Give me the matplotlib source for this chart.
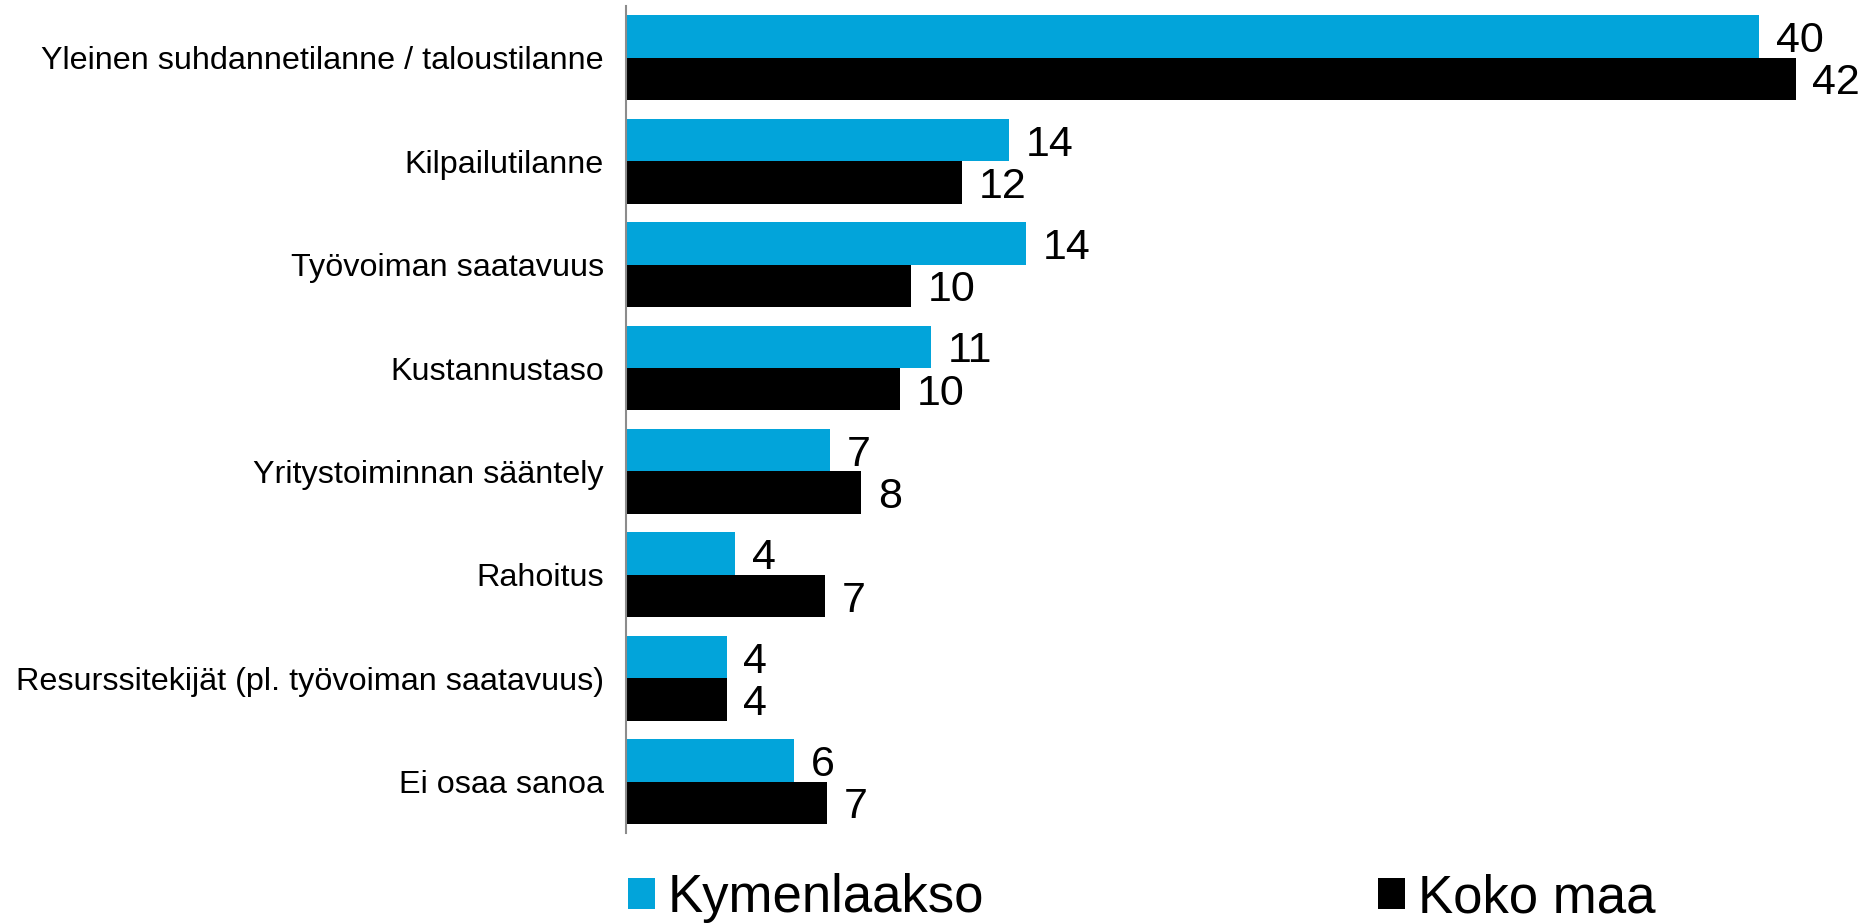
import matplotlib.pyplot as plt
import numpy as np

plt.rcParams['font.family'] = ['Liberation Sans', 'DejaVu Sans']

categories = ["Yleinen suhdannetilanne / taloustilanne", "Kilpailutilanne",
              "Työvoiman saatavuus", "Kustannustaso", "Yritystoiminnan sääntely",
              "Rahoitus", "Resurssitekijät (pl. työvoiman saatavuus)", "Ei osaa sanoa"]
kymenlaakso = [40.5, 13.7, 14.3, 10.9, 7.3, 3.9, 3.6, 6.0]
koko_maa = [41.8, 12.0, 10.2, 9.8, 8.4, 7.1, 3.6, 7.2]
kymen_labels = [40, 14, 14, 11, 7, 4, 4, 6]
koko_labels = [42, 12, 10, 10, 8, 7, 4, 7]

blue = '#02A4DA'
h = 0.41

fig = plt.figure(figsize=(18.67, 9.23), dpi=100)
ax = fig.add_axes([0.3353, 0.0971, 0.6594, 0.8963])

y = np.arange(len(categories))
b1 = ax.barh(y - h / 2, kymenlaakso, height=h, color=blue, label='Kymenlaakso')
b2 = ax.barh(y + h / 2, koko_maa, height=h, color='black', label='Koko maa')

for bars, labs in ((b1, kymen_labels), (b2, koko_labels)):
    for bar, lab in zip(bars, labs):
        ax.annotate(str(lab), (bar.get_width(), bar.get_y() + bar.get_height() / 2),
                    xytext=(12, 0), textcoords='offset points',
                    ha='left', va='center_baseline', fontsize=31)

ax.set_xlim(0, 44)
ax.set_ylim(7.5, -0.5)
ax.set_yticks(y)
ax.set_yticklabels(categories, fontsize=23.3)
ax.tick_params(axis='y', length=0, pad=16)
ax.set_xticks([])
for s in ['top', 'right', 'bottom']:
    ax.spines[s].set_visible(False)
ax.spines['left'].set_color('#8c8c8c')
ax.spines['left'].set_linewidth(1.5)

fig.legend(handles=[b1, b2], loc='center left', bbox_to_anchor=(628 / 1867, 0.027),
           ncol=2, frameon=False, fontsize=38, handlelength=0.51, handleheight=0.51,
           handletextpad=0.25, columnspacing=7.45, borderpad=0, borderaxespad=0)

fig.savefig('out.png', dpi=100)
